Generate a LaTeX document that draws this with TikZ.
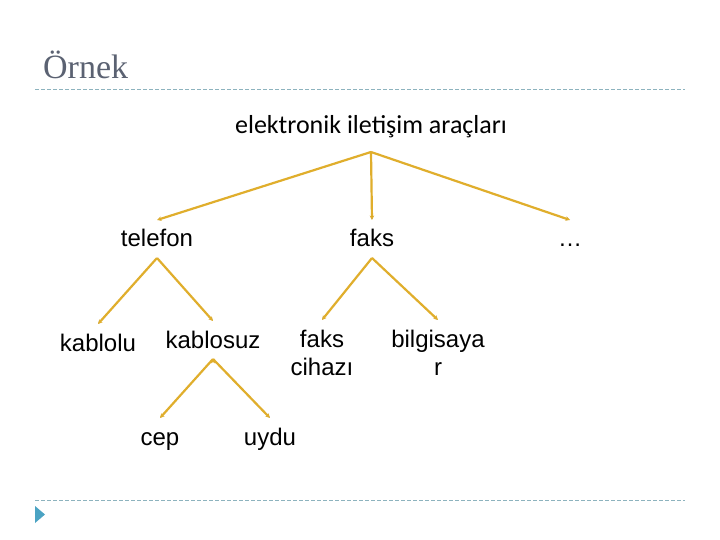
\documentclass[tikz,border=0pt]{standalone}
\usepackage{fontspec}
\setmainfont{Liberation Sans}
\newfontfamily\headfont{Liberation Serif}
\newfontfamily\rootfont{Carlito}
\usetikzlibrary{arrows.meta}
\definecolor{branch}{HTML}{E0AE2C}
\definecolor{rule}{HTML}{8DB3BE}
\definecolor{headgray}{HTML}{5B6272}
\definecolor{bullet}{HTML}{4BA3C3}

\begin{document}
\begin{tikzpicture}[x=1pt, y=-1pt, >={Stealth[length=4.5pt, width=4.5pt]},
    leaf/.style={font=\fontsize{24}{28}\selectfont, inner sep=0pt, text height=17pt, text depth=1pt, outer ysep=10pt, anchor=base},
    leaftwo/.style={font=\fontsize{24}{28}\selectfont, inner sep=0pt, align=center, outer ysep=10pt, anchor=north},
    conn/.style={->, draw=branch, line width=2.2pt}]
    \useasboundingbox[fill=white] (0,0) rectangle (720,540);

    \node[anchor=base west, inner sep=0pt, text=headgray, font=\headfont\fontsize{34}{40}\selectfont] (head) at (43,79) {Örnek};
    \draw[rule, line width=1pt, dash pattern=on 4pt off 2pt] (35,90) -- (685,90);
    \draw[rule, line width=1pt, dash pattern=on 4pt off 2pt] (35,500) -- (685,500);
    \fill[bullet] (35,506) -- (45,514.5) -- (35,523) -- cycle;

    \node[anchor=base, inner sep=0pt, text depth=6pt, outer ysep=12pt, font=\rootfont\fontsize{26}{31}\selectfont] (root) at (371,134) {elektronik iletişim araçları};

    \node[leaf] (tel) at (157,247) {telefon};
    \node[leaf] (faks) at (372,247) {faks};
    \node[leaf] (more) at (570,247) {…};

    \node[leaf] (kablolu) at (98,351) {kablolu};
    \node[leaf] (kablosuz) at (213,348) {kablosuz};
    \node[leaftwo] (cihaz) at (322,320) {faks\\cihazı};
    \node[leaftwo] (bilg) at (438,320) {bilgisaya\\r};

    \node[leaf] (cep) at (160,445) {cep};
    \node[leaf] (uydu) at (270,445) {uydu};

    \path[conn] (root.south) edge (tel.north)
                (root.south) edge (faks.north)
                (root.south) edge (more.north)
                (tel.south) edge (kablolu.north)
                (tel.south) edge (kablosuz.north)
                (faks.south) edge (cihaz.north)
                (faks.south) edge (bilg.north)
                (kablosuz.south) edge (cep.north)
                (kablosuz.south) edge (uydu.north);
\end{tikzpicture}
\end{document}
